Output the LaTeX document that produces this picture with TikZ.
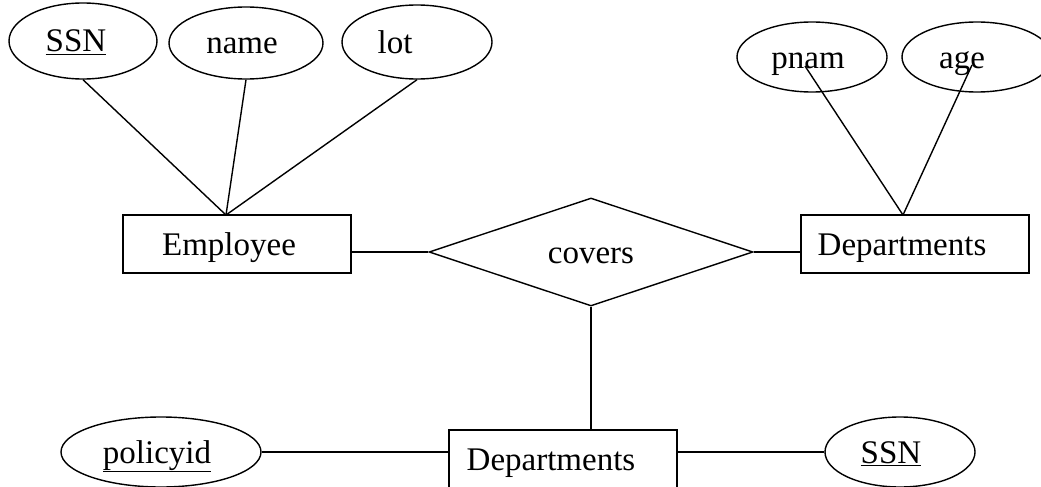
\documentclass[tikz,border=0pt]{standalone}
\usepackage{fontspec}
\setmainfont{Liberation Serif}
\usetikzlibrary{shapes.geometric}
% move a label left inside its shape without changing the shape's size
\newcommand\txtshift[2]{\hspace*{-#1}#2\hspace*{#1}}
\begin{document}
\begin{tikzpicture}[x=1pt,y=-1pt,
  every node/.style={font=\fontsize{33}{40}\selectfont,text height=22pt,text depth=0pt},
  attr/.style={draw,ellipse,inner sep=0pt,line width=1.4pt},
  entity/.style={draw,rectangle,inner sep=0pt,minimum width=228pt,minimum height=58pt,line width=1.4pt},
  rel/.style={draw,diamond,inner sep=0pt,minimum width=324pt,minimum height=108pt,aspect=3,line width=1.4pt},
  link/.style={line width=1.4pt}]
\useasboundingbox (0,0) rectangle (1041,487);
\clip (0,0) rectangle (1041,487);
% entities and relationship
\node[entity] (emp) at (237,244) {\txtshift{8pt}{Employee}};
\node[entity] (dep) at (915,244) {\txtshift{13pt}{Departments}};
\node[entity] (pol) at (563,459) {\txtshift{12pt}{Departments}};
\node[rel] (cov) at (591,252) {covers};
% attributes
\node[attr,minimum width=148pt,minimum height=76pt] (ssn) at (83,41) {\txtshift{7pt}{\underline{SSN}}};
\node[attr,minimum width=154pt,minimum height=72pt] (name) at (246,43) {\txtshift{4pt}{name}};
\node[attr,minimum width=150pt,minimum height=74pt] (lot) at (417,42) {\txtshift{22pt}{lot}};
\node[attr,minimum width=150pt,minimum height=70pt] (pnam) at (812,57) {\txtshift{4pt}{pnam}};
\node[attr,minimum width=150pt,minimum height=70pt] (age) at (977,57) {\txtshift{15pt}{age}};
\node[attr,minimum width=200pt,minimum height=70pt] (pid) at (161,452) {\txtshift{4pt}{\underline{policyid}}};
\node[attr,minimum width=150pt,minimum height=70pt] (ssnb) at (900,452) {\txtshift{9pt}{\underline{SSN}}};
% attachment points
\coordinate (ej) at (226,215);
\coordinate (dj) at (903,215);
\coordinate (pa) at (805,66);
\coordinate (aa) at (972,65);
% connectors
\draw[link] (ssn.south) -- (ej);
\draw[link] (name.south) -- (ej);
\draw[link] (lot.south) -- (ej);
\draw[link] (pa) -- (dj);
\draw[link] (aa) -- (dj);
\draw[link] (emp.east |- cov.west) -- (cov.west);
\draw[link] (cov.east) -- (dep.west |- cov.east);
\draw[link] (cov.south) -- (pol.north -| cov.south);
\draw[link] (pid.east) -- (pol.west |- pid.east);
\draw[link] (pol.east |- ssnb.west) -- (ssnb.west);
\end{tikzpicture}
\end{document}
